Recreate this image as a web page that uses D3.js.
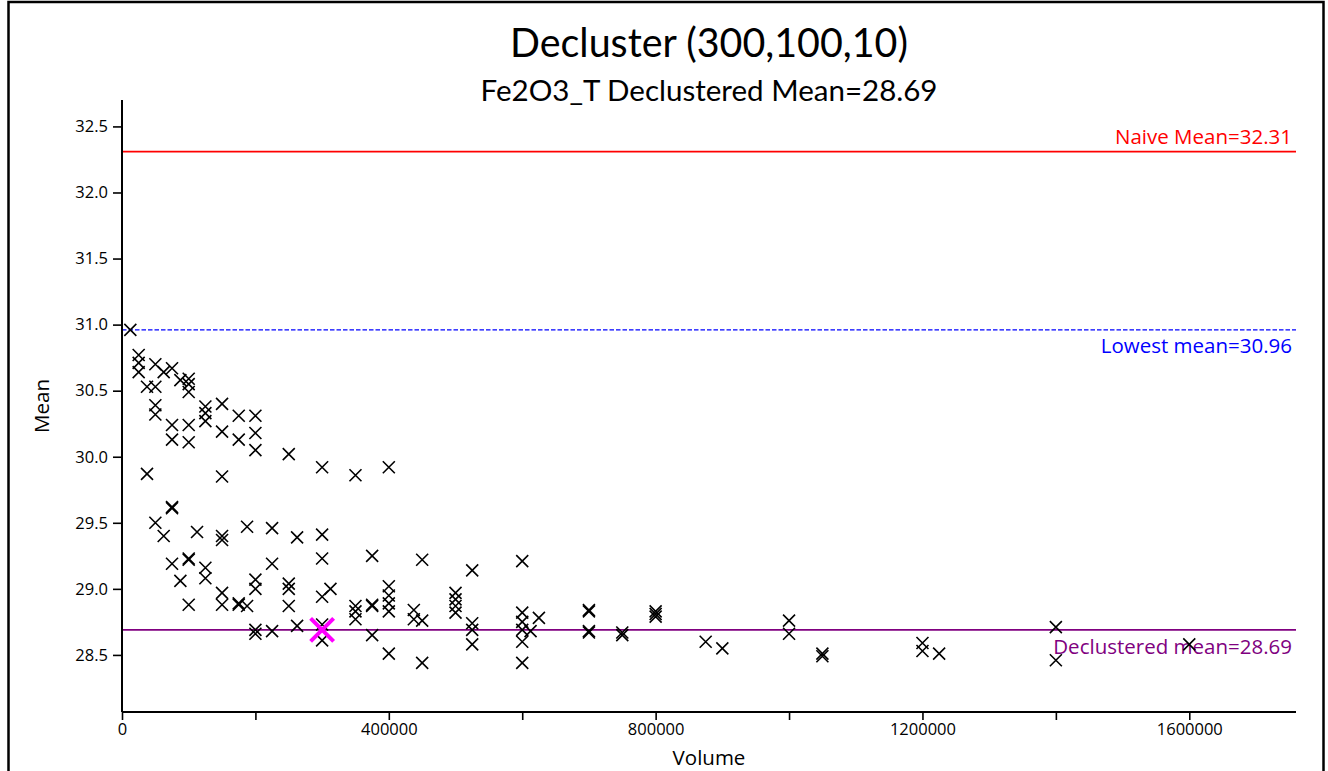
<!DOCTYPE html>
<html>
<head>
<meta charset="utf-8">
<script src="https://cdn.jsdelivr.net/npm/d3@7"></script>
<style>
  html, body { margin: 0; padding: 0; background: #fff; }
  svg { display: block; }
</style>
</head>
<body>
<svg id="chart" width="1328" height="771"></svg>
<script>
// ---- data ----
const titleText = "Decluster (300,100,10)";
const subtitleText = "Fe2O3_T Declustered Mean=28.69";
const xLabel = "Volume";
const yLabel = "Mean";

const volumes = [
  12500,
  25000, 25000, 25000,
  37500, 37500,
  50000, 50000, 50000, 50000, 50000,
  62500, 62500,
  75000, 75000, 75000, 75000, 75000, 75000,
  87500, 87500,
  100000, 100000, 100000, 100000, 100000, 100000, 100000, 100000,
  112500,
  125000, 125000, 125000, 125000, 125000,
  150000, 150000, 150000, 150000, 150000, 150000, 150000,
  175000, 175000, 175000, 175000,
  187500, 187500,
  200000, 200000, 200000, 200000, 200000, 200000, 200000,
  225000, 225000, 225000,
  250000, 250000, 250000, 250000,
  262500, 262500,
  300000, 300000, 300000, 300000, 300000, 300000,
  312500,
  350000, 350000, 350000, 350000,
  375000, 375000, 375000, 375000,
  400000, 400000, 400000, 400000, 400000, 400000,
  437500, 437500,
  450000, 450000, 450000,
  500000, 500000, 500000, 500000,
  525000, 525000, 525000, 525000,
  600000, 600000, 600000, 600000, 600000, 600000,
  612500,
  625000,
  700000, 700000, 700000, 700000,
  750000, 750000,
  800000, 800000, 800000,
  875000,
  900000,
  1000000, 1000000,
  1050000, 1050000,
  1200000, 1200000,
  1225000,
  1400000, 1400000,
  1600000
];
const means = [
  30.96,
  30.77, 30.71, 30.64,
  30.53, 29.87,
  30.70, 30.53, 30.39, 30.32, 29.50,
  30.64, 29.40,
  30.67, 30.24, 30.13, 29.62, 29.61, 29.19,
  30.58, 29.06,
  30.59, 30.55, 30.49, 30.24, 30.11, 29.23, 29.22, 28.88,
  29.43,
  30.38, 30.33, 30.27, 29.16, 29.08,
  30.40, 30.19, 29.85, 29.40, 29.37, 28.97, 28.88,
  30.31, 30.13, 28.89, 28.88,
  29.47, 28.87,
  30.31, 30.18, 30.05, 29.07, 29.00, 28.69, 28.66,
  29.46, 29.19, 28.68,
  30.02, 29.04, 29.00, 28.87,
  29.39, 28.72,
  29.92, 29.41, 29.23, 28.94, 28.73, 28.61,
  29.00,
  29.86, 28.87, 28.83, 28.77,
  29.25, 28.88, 28.87, 28.65,
  29.92, 29.02, 28.95, 28.89, 28.83, 28.51,
  28.84, 28.77,
  29.22, 28.76, 28.44,
  28.97, 28.92, 28.87, 28.82,
  29.14, 28.74, 28.69, 28.58,
  29.21, 28.82, 28.75, 28.69, 28.60, 28.44,
  28.68,
  28.78,
  28.84, 28.83, 28.68, 28.67,
  28.67, 28.65,
  28.83, 28.81, 28.79,
  28.60,
  28.55,
  28.76, 28.66,
  28.51, 28.49,
  28.59, 28.53,
  28.51,
  28.71, 28.46,
  28.58
];

const chosenVolume = [300000];
const chosenMean = [28.69];

const refNames = ["Naive Mean", "Lowest mean", "Declustered mean"];
const refValues = [32.31, 30.96, 28.69];
const refColors = ["#ff0000", "#0000ff", "#800080"];

const xTickValues = [0, 200000, 400000, 600000, 800000, 1000000, 1200000, 1400000, 1600000];
const xTickLabelEvery = 400000;
const yTickValues = [28.5, 29.0, 29.5, 30.0, 30.5, 31.0, 31.5, 32.0, 32.5];

// ---- layout ----
const svg = d3.select("#chart");
const plot = { left: 122, right: 1296, top: 100, bottom: 712 };

const x = d3.scaleLinear().domain([0, 1760000]).range([plot.left, plot.right]);
const y = d3.scaleLinear().domain([28.068, 32.70]).range([plot.bottom, plot.top]);

// outer frame
svg.append("rect")
  .attr("x", 8.5).attr("y", 2).attr("width", 1315).attr("height", 800)
  .attr("fill", "none").attr("stroke", "#000").attr("stroke-width", 2.5);

// titles
svg.append("text")
  .attr("x", 709).attr("y", 57)
  .attr("text-anchor", "middle")
  .attr("font-family", "Lato, 'Open Sans', sans-serif")
  .attr("font-size", 40)
  .attr("textLength", 398).attr("lengthAdjust", "spacingAndGlyphs")
  .attr("fill", "#000")
  .text(titleText);

svg.append("text")
  .attr("x", 709).attr("y", 101)
  .attr("text-anchor", "middle")
  .attr("font-family", "Lato, 'Open Sans', sans-serif")
  .attr("font-size", 29)
  .attr("textLength", 457).attr("lengthAdjust", "spacingAndGlyphs")
  .attr("fill", "#000")
  .text(subtitleText);

// reference lines
const refG = svg.append("g");
refValues.forEach((v, i) => {
  refG.append("line")
    .attr("x1", plot.left).attr("x2", plot.right)
    .attr("y1", y(v)).attr("y2", y(v))
    .attr("stroke", refColors[i])
    .attr("stroke-width", i === 1 ? 1.4 : 1.7)
    .attr("stroke-dasharray", i === 1 ? "4.5,2" : null);
});

// axes
const fontTick = "'Open Sans', 'Noto Sans', sans-serif";
const yAxis = d3.axisLeft(y).tickValues(yTickValues).tickFormat(d3.format(".1f"))
  .tickSize(9).tickSizeOuter(0).tickPadding(5);
const gy = svg.append("g").attr("transform", `translate(${plot.left},0)`).call(yAxis);

const xAxis = d3.axisBottom(x).tickValues(xTickValues)
  .tickFormat(d => (d % xTickLabelEvery === 0 ? String(d) : ""))
  .tickSize(8).tickSizeOuter(0).tickPadding(3);
const gx = svg.append("g").attr("transform", `translate(0,${plot.bottom})`).call(xAxis);

[gx, gy].forEach(g => {
  g.select(".domain").attr("stroke", "#000").attr("stroke-width", 2);
  g.selectAll(".tick line").attr("stroke", "#000").attr("stroke-width", 1.6);
  g.selectAll(".tick text").attr("font-family", fontTick).attr("font-size", 16.5).attr("fill", "#000");
});
gy.select(".domain").attr("d", `M0,${plot.top}V${plot.bottom}`);
gx.select(".domain").attr("d", `M${plot.left},0H${plot.right}`);

// axis titles
svg.append("text")
  .attr("x", (plot.left + plot.right) / 2).attr("y", 765)
  .attr("text-anchor", "middle")
  .attr("font-family", fontTick).attr("font-size", 20.5)
  .attr("fill", "#000").text(xLabel);

svg.append("text")
  .attr("transform", `translate(49,${(plot.top + plot.bottom) / 2}) rotate(-90)`)
  .attr("text-anchor", "middle")
  .attr("font-family", fontTick).attr("font-size", 20.5)
  .attr("fill", "#000").text(yLabel);

// reference labels
const labelY = [v => y(v) - 8, v => y(v) + 23, v => y(v) + 24];
refValues.forEach((v, i) => {
  svg.append("text")
    .attr("x", 1292).attr("y", labelY[i](v))
    .attr("text-anchor", "end")
    .attr("font-family", fontTick).attr("font-size", 20.5)
    .attr("fill", refColors[i])
    .text(`${refNames[i]}=${v.toFixed(2)}`);
});

// points (X markers)
const pts = volumes.map((v, i) => ({ v, m: means[i] }));
const s = 6;
const crossPath = (cx, cy, r) => `M${cx - r},${cy - r}L${cx + r},${cy + r}M${cx - r},${cy + r}L${cx + r},${cy - r}`;
svg.append("g").selectAll("path").data(pts).join("path")
  .attr("d", d => crossPath(x(d.v), y(d.m), s))
  .attr("stroke", "#000").attr("stroke-width", 1.6).attr("fill", "none");

// chosen
svg.append("g").selectAll("path").data(chosenVolume.map((v, i) => ({ v, m: chosenMean[i] }))).join("path")
  .attr("d", d => crossPath(x(d.v), y(d.m), 11.5))
  .attr("stroke", "#ff00ff").attr("stroke-width", 4).attr("fill", "none");
</script>
</body>
</html>
